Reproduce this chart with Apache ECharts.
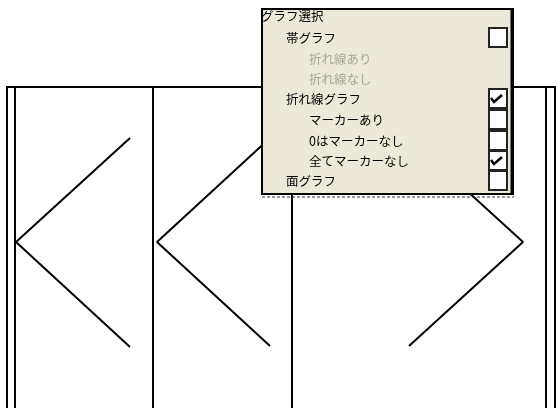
<!DOCTYPE html>
<html>
<head>
<meta charset="utf-8">
<style>
    html, body { margin: 0; padding: 0; background: #fff; }
    #chart { width: 560px; height: 408px; }
</style>
<script src="https://cdn.jsdelivr.net/npm/echarts@6/dist/echarts.min.js"></script>
</head>
<body>
<div id="chart"></div>
<script>
// 折れ線データ (x, y)
var lineA = [[123, 270], [9, 166], [123, 61]];
var lineB = [[263, 270], [150, 166], [263, 62]];
var lineC = [[402, 270], [516, 166], [402, 62]];
// 区切り線の位置
var dividers = [8, 146, 285, 539, 548];

// メニュー項目: 名前, インデント, 灰色, チェック状態(null=なし)
var menuItems = ['帯グラフ', '折れ線あり', '折れ線なし', '折れ線グラフ', 'マーカーあり', '0はマーカーなし', '全てマーカーなし', '面グラフ'];
var menuIndent = [0, 1, 1, 0, 1, 1, 1, 0];
var menuGrey = [false, true, true, false, false, false, false, false];
var menuCheck = [false, null, null, true, false, false, true, false];
var menuRowY = [38, 59, 79, 99, 120, 141, 161, 181];

var chart = echarts.init(document.getElementById('chart'));

var font = '12.5px "Noto Sans CJK JP", sans-serif';
var graphics = [];
graphics.push({
    type: 'rect', z: 100,
    shape: { x: 262, y: 9, width: 251, height: 185 },
    style: { fill: '#ECE9D8', stroke: '#000', lineWidth: 2 }
});
graphics.push({
    type: 'line', z: 100,
    shape: { x1: 512, y1: 9, x2: 512, y2: 194 },
    style: { stroke: '#000', lineWidth: 3 }
});
graphics.push({
    type: 'line', z: 100,
    shape: { x1: 262, y1: 197, x2: 514, y2: 197 },
    style: { stroke: '#333', lineWidth: 1, lineDash: [3, 2] }
});
graphics.push({
    type: 'text', z: 101, x: 261, y: 16,
    style: { text: 'グラフ選択', font: font, fill: '#000', align: 'left', verticalAlign: 'middle' }
});
for (var i = 0; i < menuItems.length; i++) {
    graphics.push({
        type: 'text', z: 101,
        x: menuIndent[i] ? 309 : 286, y: menuRowY[i],
        style: {
            text: menuItems[i], font: font,
            fill: menuGrey[i] ? '#A9A69A' : '#000',
            align: 'left', verticalAlign: 'middle'
        }
    });
    if (menuCheck[i] === null) continue;
    var boxTop = menuRowY[i] - 10;
    graphics.push({
        type: 'rect', z: 101,
        shape: { x: 489, y: boxTop, width: 18, height: 19 },
        style: { fill: '#fff', stroke: '#222', lineWidth: 2 }
    });
    if (menuCheck[i]) {
        graphics.push({
            type: 'polyline', z: 102,
            shape: { points: [[491, boxTop + 9], [494, boxTop + 13], [502, boxTop + 6]] },
            style: { stroke: '#000', lineWidth: 2.5, fill: null }
        });
    }
}

var lineStyle = { color: '#000', width: 2 };
var axisLine = { show: true, onZero: false, lineStyle: { color: '#000', width: 2 } };
var option = {
    animation: false,
    grid: { left: 7, right: 5, top: 87, bottom: 0 },
    xAxis: {
        type: 'value', min: 0, max: 548, position: 'top',
        axisLine: axisLine, axisTick: { show: false }, axisLabel: { show: false }, splitLine: { show: false }
    },
    yAxis: {
        type: 'value', min: 0, max: 321,
        axisLine: axisLine, axisTick: { show: false }, axisLabel: { show: false }, splitLine: { show: false }
    },
    series: [
        { type: 'line', data: lineA, showSymbol: false, lineStyle: lineStyle, itemStyle: { color: '#000' } },
        { type: 'line', data: lineB, showSymbol: false, lineStyle: lineStyle, itemStyle: { color: '#000' } },
        { type: 'line', data: lineC, showSymbol: false, lineStyle: lineStyle, itemStyle: { color: '#000' } },
        {
            type: 'line', data: [],
            markLine: {
                silent: true, symbol: ['none', 'none'],
                label: { show: false },
                lineStyle: { color: '#000', width: 2, type: 'solid' },
                data: dividers.map(function (v) { return { xAxis: v }; })
            }
        }
    ],
    graphic: graphics
};
chart.setOption(option);
</script>
</body>
</html>
